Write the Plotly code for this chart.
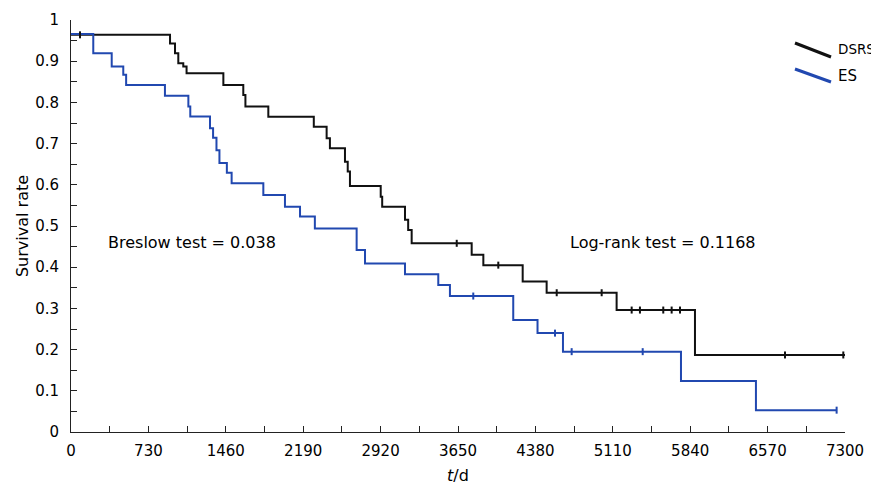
import plotly.graph_objects as go

# ---- data ----
dsrs_t = [0, 934, 981, 1012, 1059, 1090, 1437, 1625, 1645, 1861, 2290, 2411, 2442, 2584, 2610, 2631,
          2921, 2935, 3150, 3180, 3213, 3779, 3889, 4260, 4486, 5146, 5885, 7300]
dsrs_s = [0.964, 0.943, 0.919, 0.895, 0.887, 0.871, 0.842, 0.818, 0.790, 0.765, 0.741, 0.713, 0.689,
          0.656, 0.632, 0.597, 0.571, 0.547, 0.515, 0.490, 0.458, 0.430, 0.405, 0.365, 0.338, 0.296,
          0.187, 0.187]
dsrs_cens_t = [85, 3638, 4030, 4581, 5005, 5288, 5366, 5586, 5665, 5744, 6734, 7284]
dsrs_cens_s = [0.964, 0.458, 0.405, 0.338, 0.338, 0.296, 0.296, 0.296, 0.296, 0.296, 0.187, 0.187]

es_t = [0, 210, 384, 493, 520, 886, 1107, 1125, 1311, 1340, 1372, 1400, 1470, 1515, 1814, 2018, 2160,
        2300, 2694, 2773, 3150, 3464, 3574, 4171, 4400, 4640, 5753, 6460, 7221]
es_s = [0.966, 0.919, 0.887, 0.867, 0.842, 0.816, 0.790, 0.766, 0.737, 0.714, 0.684, 0.653, 0.629,
        0.604, 0.575, 0.547, 0.523, 0.494, 0.442, 0.409, 0.383, 0.357, 0.330, 0.272, 0.240, 0.195,
        0.124, 0.053, 0.053]
es_cens_t = [3794, 4565, 4722, 5392, 7221]
es_cens_s = [0.330, 0.240, 0.195, 0.195, 0.053]

x_tickvals = [0, 730, 1460, 2190, 2920, 3650, 4380, 5110, 5840, 6570, 7300]
y_tickvals = [0, 0.1, 0.2, 0.3, 0.4, 0.5, 0.6, 0.7, 0.8, 0.9, 1]
y_ticktext = ["0", "0.1", "0.2", "0.3", "0.4", "0.5", "0.6", "0.7", "0.8", "0.9", "1"]

BLACK = "#111111"
BLUE = "#2148b0"
FONT = "DejaVu Sans"

# page body has an 8px margin; lay the figure out so the plot lands where the reference has it
OFF = 8
W, H = 871, 485
PLOT_L, PLOT_R, PLOT_T, PLOT_B = 71, 845, 20, 432   # page pixels
L, T = PLOT_L - OFF, PLOT_T - OFF
R, B = W - (PLOT_R - OFF), H - (PLOT_B - OFF)
PW, PH = PLOT_R - PLOT_L, PLOT_B - PLOT_T


def px(x):
    return (x - PLOT_L) / PW


def py(y):
    return (PLOT_B - y) / PH


fig = go.Figure()
fig.add_trace(go.Scatter(x=dsrs_t, y=dsrs_s, mode="lines", line=dict(color=BLACK, width=2, shape="hv"),
                         showlegend=False))
fig.add_trace(go.Scatter(x=es_t, y=es_s, mode="lines", line=dict(color=BLUE, width=2, shape="hv"),
                         showlegend=False))
fig.add_trace(go.Scatter(x=dsrs_cens_t, y=dsrs_cens_s, mode="markers",
                         marker=dict(symbol="line-ns", size=5, line=dict(color=BLACK, width=2)),
                         showlegend=False))
fig.add_trace(go.Scatter(x=es_cens_t, y=es_cens_s, mode="markers",
                         marker=dict(symbol="line-ns", size=5, line=dict(color=BLUE, width=2)),
                         showlegend=False))

shapes = [
    dict(type="line", xref="paper", yref="paper", x0=px(795), y0=py(43), x1=px(831), y1=py(57),
         line=dict(color=BLACK, width=3)),
    dict(type="line", xref="paper", yref="paper", x0=px(795), y0=py(69), x1=px(831), y1=py(82),
         line=dict(color=BLUE, width=3)),
]
annotations = [
    dict(text="DSRS", xref="paper", yref="paper", x=px(836), y=py(49), xanchor="left", yanchor="middle",
         showarrow=False, font=dict(family=FONT, size=13.5, color="#000")),
    dict(text="ES", xref="paper", yref="paper", x=px(836), y=py(76), xanchor="left", yanchor="middle",
         showarrow=False, font=dict(family=FONT, size=15, color="#000")),
    dict(text="Breslow test = 0.038", xref="paper", yref="paper", x=px(106), y=py(242), xanchor="left",
         yanchor="middle", showarrow=False, font=dict(family=FONT, size=16, color="#000")),
    dict(text="Log-rank test = 0.1168", xref="paper", yref="paper", x=px(568), y=py(242), xanchor="left",
         yanchor="middle", showarrow=False, font=dict(family=FONT, size=16, color="#000")),
]

fig.update_layout(
    width=W, height=H,
    margin=dict(l=L, r=R, t=T, b=B),
    paper_bgcolor="white", plot_bgcolor="white",
    font=dict(family=FONT, size=15, color="#000"),
    shapes=shapes, annotations=annotations,
    showlegend=False,
)
fig.update_xaxes(
    range=[0, 7300], tickvals=x_tickvals, ticks="inside", ticklen=6, tickcolor="#222",
    showline=True, linecolor="#222", linewidth=1, showgrid=False, zeroline=False, automargin=False,
    minor=dict(dtick=365, tick0=0, ticks="inside", ticklen=6, tickcolor="#222", showgrid=False),
    title=dict(text="<i>t</i>/d", font=dict(family=FONT, size=16), standoff=10),
    tickfont=dict(family=FONT, size=15), ticklabelstandoff=5,
)
fig.update_yaxes(
    range=[0, 1], tickvals=y_tickvals, ticktext=y_ticktext, ticks="inside", ticklen=6, tickcolor="#222",
    showline=True, linecolor="#222", linewidth=1, showgrid=False, zeroline=False, automargin=False,
    minor=dict(dtick=0.05, tick0=0, ticks="inside", ticklen=6, tickcolor="#222", showgrid=False),
    title=dict(text="Survival rate", font=dict(family=FONT, size=16), standoff=2),
    tickfont=dict(family=FONT, size=15), ticklabelstandoff=8,
)

fig.write_html("out.html")
